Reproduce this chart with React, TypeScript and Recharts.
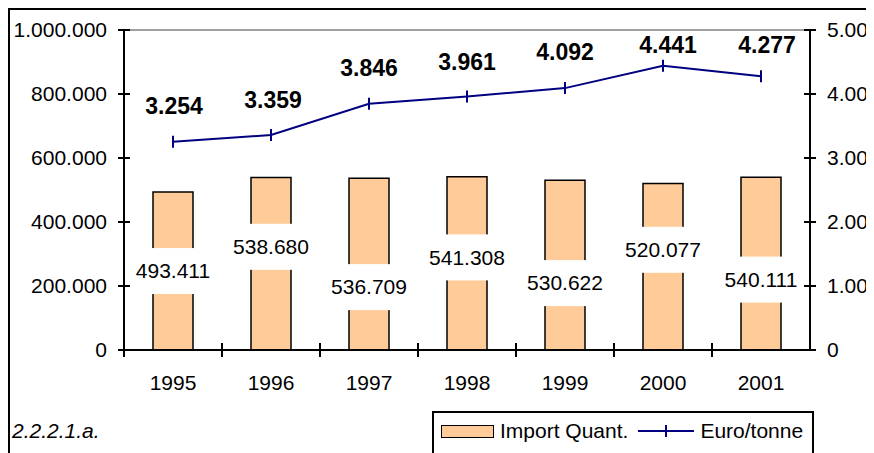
import React from 'react';
import { ComposedChart, Bar, Line, XAxis, YAxis, ReferenceLine, Legend } from 'recharts';

const years = ['1995', '1996', '1997', '1998', '1999', '2000', '2001'];
const importQuant = [493411, 538680, 536709, 541308, 530622, 520077, 540111];
const euroPerTonne = [3254, 3359, 3846, 3961, 4092, 4441, 4277];
const leftTicks = [0, 200000, 400000, 600000, 800000, 1000000];
const rightTicks = [0, 1000, 2000, 3000, 4000, 5000];
const caption = '2.2.2.1.a.';
const seriesNames = ['Import Quant.', 'Euro/tonne'];

// label layout tweaks (pixels)
const barLabelShift = [0, -17, 23, -6, 18, -17, 16];
const lineLabelRise = [36, 35, 36, 35, 36, 21, 31];
const lineLabelDx = [1, 2, 0, 0, 0, 5, 6];

const data = years.map((y, i) => ({ year: y, qty: importQuant[i], euro: euroPerTonne[i] }));

const fmt = (n: number) => String(n).replace(/\B(?=(\d{3})+(?!\d))/g, '.');

const W = 866;
const H = 445;
const LEFT_W = 116;
const RIGHT_W = 64;
const BAND = (W - LEFT_W - RIGHT_W) / years.length;
const FONT = '"Liberation Sans", Arial, sans-serif';
const NAVY = '#000080';
const PEACH = '#FFCC99';

const LeftTick = (props: any) => {
  const { x, y, payload } = props;
  return (
    <g>
      <line x1={x - 6} x2={x + 6} y1={y} y2={y} stroke="#000" strokeWidth={2} />
      <text x={x - 17} y={y} dy="0.35em" textAnchor="end" fontSize={21} fill="#000" fontFamily={FONT}>
        {fmt(payload.value)}
      </text>
    </g>
  );
};

const RightTick = (props: any) => {
  const { x, y, payload } = props;
  return (
    <g>
      <line x1={x - 6} x2={x + 6} y1={y} y2={y} stroke="#000" strokeWidth={2} />
      <text x={x + 17} y={y} dy="0.35em" textAnchor="start" fontSize={21} fill="#000" fontFamily={FONT}>
        {fmt(payload.value)}
      </text>
    </g>
  );
};

const XTick = (props: any) => {
  const { x, y, payload } = props;
  return (
    <g>
      <line x1={x - BAND / 2} x2={x - BAND / 2} y1={y - 7} y2={y + 7} stroke="#000" strokeWidth={2} />
      <text x={x} y={y + 33} dy="0.35em" textAnchor="middle" fontSize={21} fill="#000" fontFamily={FONT}>
        {payload.value}
      </text>
    </g>
  );
};

const BarLabel = (props: any) => {
  const { x, y, width, height, value, index } = props;
  const cx = x + width / 2;
  const cy = y + height / 2 + barLabelShift[index];
  const txt = fmt(value);
  const tw = 80;
  return (
    <g>
      <rect x={cx - tw / 2 - 3} y={cy - 23} width={tw + 6} height={46} fill="#fff" />
      <text x={cx} y={cy} dy="0.35em" textAnchor="middle" fontSize={21} fill="#000" fontFamily={FONT}>
        {txt}
      </text>
    </g>
  );
};

const LineLabel = (props: any) => {
  const { x, y, value, index } = props;
  return (
    <text
      x={x + lineLabelDx[index]}
      y={y - lineLabelRise[index]}
      dy="0.35em"
      textAnchor="middle"
      fontSize={23}
      fontWeight="bold"
      fill="#000"
      fontFamily={FONT}
    >
      {fmt(value)}
    </text>
  );
};

const Dash = (props: any) => {
  const { cx, cy } = props;
  return <line x1={cx} x2={cx} y1={cy - 6} y2={cy + 6} stroke={NAVY} strokeWidth={2} />;
};

const LegendBox = () => (
  <div
    style={{
      boxSizing: 'border-box',
      width: 382,
      height: 60,
      border: '2px solid #000',
      background: '#fff',
      display: 'flex',
      alignItems: 'center',
      paddingLeft: 7,
      paddingBottom: 20,
      fontFamily: FONT,
      fontSize: 21,
      color: '#000',
      whiteSpace: 'nowrap',
    }}
  >
    <div style={{ boxSizing: 'border-box', width: 53, height: 13, background: PEACH, border: '1.5px solid #000' }} />
    <span style={{ marginLeft: 6 }}>{seriesNames[0]}</span>
    <svg width={56} height={14} style={{ marginLeft: 10 }}>
      <line x1={0} x2={56} y1={7} y2={7} stroke={NAVY} strokeWidth={2} />
      <line x1={28} x2={28} y1={1} y2={13} stroke={NAVY} strokeWidth={2} />
    </svg>
    <span style={{ marginLeft: 6 }}>{seriesNames[1]}</span>
  </div>
);

export default function App() {
  return (
    <div style={{ position: 'relative', width: W, height: H, fontFamily: FONT }}>
      <style>{'html,body{overflow:hidden}'}</style>
      <ComposedChart
        width={W}
        height={H}
        data={data}
        margin={{ top: 22, right: 0, bottom: 0, left: 0 }}
        style={{ fontFamily: FONT }}
      >
        <XAxis
          dataKey="year"
          height={103}
          axisLine={{ stroke: '#000', strokeWidth: 2 }}
          tickLine={false}
          tickSize={0}
          tickMargin={0}
          tick={<XTick />}
          interval={0}
        />
        <YAxis
          yAxisId="left"
          orientation="left"
          width={LEFT_W}
          domain={[0, 1000000]}
          ticks={leftTicks}
          axisLine={{ stroke: '#000', strokeWidth: 2 }}
          tickLine={false}
          tickSize={0}
          tickMargin={0}
          tick={<LeftTick />}
          interval={0}
        />
        <YAxis
          yAxisId="right"
          orientation="right"
          width={RIGHT_W}
          domain={[0, 5000]}
          ticks={rightTicks}
          axisLine={{ stroke: '#000', strokeWidth: 2 }}
          tickLine={false}
          tickSize={0}
          tickMargin={0}
          tick={<RightTick />}
          interval={0}
        />
        <ReferenceLine yAxisId="left" y={1000000} stroke="#808080" strokeWidth={1.5} />
        <Bar
          yAxisId="left"
          dataKey="qty"
          name={seriesNames[0]}
          fill={PEACH}
          stroke="#000"
          strokeWidth={1.5}
          barSize={40}
          isAnimationActive={false}
          label={<BarLabel />}
        />
        <Line
          yAxisId="right"
          dataKey="euro"
          name={seriesNames[1]}
          type="linear"
          stroke={NAVY}
          strokeWidth={2}
          dot={<Dash />}
          activeDot={false}
          isAnimationActive={false}
          label={<LineLabel />}
        />
        <Legend
          layout="horizontal"
          verticalAlign="middle"
          align="center"
          content={<LegendBox />}
          wrapperStyle={{ left: 424, top: 403, width: 382, height: 60 }}
        />
      </ComposedChart>
      <div
        style={{
          position: 'absolute',
          left: 0,
          top: 0,
          width: W,
          height: H + 20,
          borderLeft: '2px solid #000',
          borderTop: '2px solid #000',
          boxSizing: 'border-box',
          pointerEvents: 'none',
        }}
      />
      <div
        style={{
          position: 'absolute',
          left: 4,
          top: 411,
          fontStyle: 'italic',
          fontSize: 21,
          color: '#000',
          fontFamily: FONT,
        }}
      >
        {caption}
      </div>
    </div>
  );
}
